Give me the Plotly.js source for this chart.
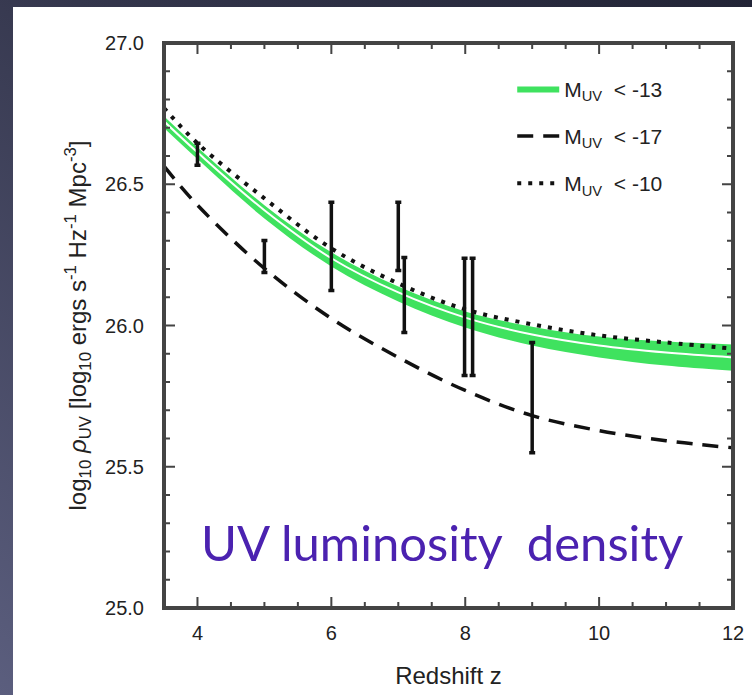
<!DOCTYPE html>
<html>
<head>
<meta charset="utf-8">
<script src="https://cdn.plot.ly/plotly-3.0.1.min.js"></script>
<style>
  html, body { margin: 0; padding: 0; width: 752px; height: 695px; overflow: hidden; }
  body { background: linear-gradient(to bottom left, #222436 0%, #34364c 45%, #5b5e7e 100%); position: relative; }
  #chart { position: absolute; left: 13px; top: 7px; width: 739px; height: 688px; background: #ffffff; }
  .js-plotly-plot .plotly .crisp { shape-rendering: auto !important; }
</style>
</head>
<body>
<div id="chart"></div>
<script>
// Axis ranges
const xRange = [3.5, 12];
const yRange = [25, 27];
// Redshift grid of the model curves
const z = [3.5, 4, 5, 6, 7, 8, 9, 10, 11, 12];
// M_UV < -13 band (upper edge, central line, lower edge)
const rhoM13Upper = [26.741, 26.631, 26.426, 26.259, 26.138, 26.050, 25.996, 25.961, 25.943, 25.933];
const rhoM13Mid   = [26.723, 26.613, 26.408, 26.238, 26.117, 26.028, 25.968, 25.929, 25.904, 25.887];
const rhoM13Lower = [26.699, 26.589, 26.379, 26.209, 26.085, 25.993, 25.929, 25.887, 25.858, 25.840];
// M_UV < -17 (dashed) and M_UV < -10 (dotted)
const rhoM17 = [26.564, 26.426, 26.202, 26.025, 25.887, 25.770, 25.681, 25.628, 25.592, 25.567];
const rhoM10 = [26.770, 26.645, 26.450, 26.273, 26.149, 26.057, 26.004, 25.965, 25.940, 25.918];
// Observed luminosity densities (error bar ranges)
const obsZ    = [4.0, 5.0, 6.0, 7.0, 7.09, 7.99, 8.11, 9.0];
const obsLow  = [26.567, 26.188, 26.124, 26.195, 25.975, 25.823, 25.823, 25.550];
const obsHigh = [26.645, 26.301, 26.436, 26.436, 26.241, 26.238, 26.238, 25.940];
// Labels
const legendNames = ['M<sub>UV</sub>&nbsp; &lt; -13', 'M<sub>UV</sub>&nbsp; &lt; -17', 'M<sub>UV</sub>&nbsp; &lt; -10'];
const xTitle = 'Redshift z';
const yTitle = 'log<sub>10</sub> <i>ρ</i><sub>UV</sub> [log<sub>10</sub> ergs s<sup>-1</sup> Hz<sup>-1</sup> Mpc<sup>-3</sup>]';
const panelLabel = 'UV luminosity&nbsp; density';

const green = '#3fe25f';
const frameColor = '#444444';
const obsMid = obsZ.map((_, i) => (obsLow[i] + obsHigh[i]) / 2);
const obsErr = obsZ.map((_, i) => (obsHigh[i] - obsLow[i]) / 2);

const traces = [
  { x: z, y: rhoM13Upper, mode: 'lines', line: {width: 0, shape: 'spline', color: green},
    showlegend: false, hoverinfo: 'skip' },
  { x: z, y: rhoM13Lower, mode: 'lines', line: {width: 0, shape: 'spline', color: green},
    fill: 'tonexty', fillcolor: green, name: legendNames[0], legendgroup: 'a', legendrank: 1 },
  { x: z, y: rhoM13Mid, mode: 'lines', line: {width: 2, shape: 'spline', color: '#ffffff'},
    showlegend: false },
  { x: z, y: rhoM17, mode: 'lines', line: {width: 3.5, shape: 'spline', color: '#111111', dash: '16px,10px'},
    name: legendNames[1], legendgroup: 'b', legendrank: 2 },
  { x: z, y: rhoM10, mode: 'lines', line: {width: 4, shape: 'spline', color: '#111111', dash: '4px,7px'},
    name: legendNames[2], legendgroup: 'c', legendrank: 3 },
  { x: obsZ, y: obsMid, mode: 'markers', marker: {size: 1, color: 'rgba(0,0,0,0)'},
    error_y: {type: 'data', array: obsErr, visible: true, color: '#111111', thickness: 3.5, width: 3},
    showlegend: false },
  // axis box, traced along the axis ranges
  { x: [xRange[0], xRange[1], xRange[1], xRange[0], xRange[0]],
    y: [yRange[0], yRange[0], yRange[1], yRange[1], yRange[0]],
    mode: 'lines', line: {width: 4, color: frameColor}, showlegend: false, hoverinfo: 'skip' }
];

const axisCommon = {
  showline: true, linecolor: frameColor, linewidth: 2, mirror: 'ticks',
  ticks: 'inside', ticklen: 11, tickwidth: 1.5, tickcolor: frameColor,
  showgrid: false, zeroline: false,
  tickfont: {family: 'Liberation Sans, Arial, sans-serif', size: 20, color: '#222222'}
};

const layout = {
  width: 739, height: 688,
  paper_bgcolor: '#ffffff', plot_bgcolor: '#ffffff',
  margin: {l: 151, r: 19, t: 36, b: 87},
  showlegend: true,
  legend: {
    x: 0.612, y: 0.955, xanchor: 'left', yanchor: 'top',
    bgcolor: 'rgba(255,255,255,0)', traceorder: 'grouped', tracegroupgap: 17,
    itemwidth: 42,
    font: {family: 'Liberation Sans, Arial, sans-serif', size: 21, color: '#222222'}
  },
  xaxis: Object.assign({}, axisCommon, {
    range: xRange, tick0: 4, dtick: 2, ticklabelstandoff: 6,
    minor: {ticks: 'inside', ticklen: 6, dtick: 0.5, tickcolor: frameColor, tickwidth: 1.5},
    title: {text: xTitle, standoff: 24, font: {family: 'Liberation Sans, Arial, sans-serif', size: 24, color: '#222222'}}
  }),
  yaxis: Object.assign({}, axisCommon, {
    range: yRange, tick0: 25, dtick: 0.5, tickformat: '.1f', ticklabelstandoff: 14,
    minor: {ticks: 'inside', ticklen: 6, dtick: 0.1, tickcolor: frameColor, tickwidth: 1.5},
    title: {text: yTitle, standoff: 12, font: {family: 'Liberation Sans, Arial, sans-serif', size: 24, color: '#222222'}}
  }),
  annotations: [{
    xref: 'paper', yref: 'paper', x: 0.489, y: 0.116, xanchor: 'center', yanchor: 'middle',
    text: panelLabel, showarrow: false,
    font: {family: 'Lato, Open Sans, sans-serif', size: 49, color: '#4b22b0'}
  }]
};

Plotly.newPlot('chart', traces, layout, {displayModeBar: false});
</script>
</body>
</html>
